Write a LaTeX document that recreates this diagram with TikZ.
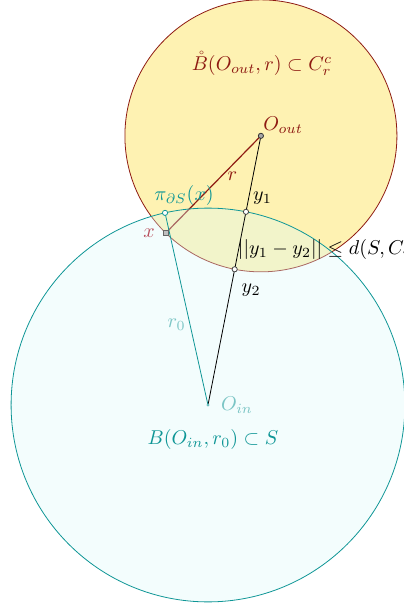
\documentclass[tikz,border=0pt]{standalone}
\usepackage{xcolor}
\usepackage{tikz}
\usetikzlibrary{positioning,calc}
\definecolor{outred}{HTML}{8E1A12}
\definecolor{outfill}{HTML}{FEF2B2}
\definecolor{inteal}{HTML}{0E9696}
\definecolor{infill}{HTML}{DDF8F8}
\definecolor{xred}{HTML}{B8505E}

\begin{document}
\begin{tikzpicture}[
  ballout/.style={draw=outred, fill=outfill},
  ballin/.style={draw=inteal, fill=infill, fill opacity=0.35},
  centerpt/.style={circle, inner sep=0pt, minimum size=2.6pt, draw=black!80, fill=gray!70},
  squarept/.style={rectangle, inner sep=0pt, minimum size=2.6pt, draw=black!60, fill=gray!50},
  hollowpt/.style={circle, inner sep=0pt, minimum size=2.6pt, draw=black!75, fill=white},
  tealpt/.style={hollowpt, draw=inteal},
  softteal/.style={text=inteal!55}
]
\useasboundingbox (-3.655,-3.497) rectangle (3.444,7.117);
\clip (-3.655,-3.497) rectangle (3.444,7.117);
\def\rIn{3.46}
\def\rOut{2.39}
\coordinate (oIn) at (0,0);
\coordinate (oOut) at (0.93,4.73);
\coordinate (xPt) at ($(oOut)+(225.6:\rOut)$);
\coordinate (piPt) at ($(oIn)+(102.6:\rIn)$);
\coordinate (yOne) at ($(oIn)!\rIn cm!(oOut)$);
\coordinate (yTwo) at ($(oOut)!\rOut cm!(oIn)$);
\coordinate (ineqAt) at (0.52,2.724);

\draw[ballout] (oOut) circle (\rOut);
\draw[outred, semithick] (oOut) -- node[pos=0.3, below, text=outred] (rLbl) {$r$} (xPt);
\draw[ballin] (oIn) circle (\rIn);
\draw[inteal] (piPt) -- node[pos=0.58, left, inner sep=2pt, softteal] (rZeroLbl) {$r_0$} (oIn);
\draw (oOut) -- (oIn);

\node[centerpt] (oOutDot) at (oOut) {};
\node[squarept] (xDot) at (xPt) {};
\node[tealpt] (piDot) at (piPt) {};
\node[hollowpt] (yOneDot) at (yOne) {};
\node[hollowpt] (yTwoDot) at (yTwo) {};
\node[circle, inner sep=0pt, minimum size=1.6pt, fill=inteal!60] (oInDot) at (oIn) {};

\node[text=outred] (ballOutLbl) at (0.949,5.993) {$\mathring{B}(O_{out},r)\subset C_r^c$};
\node[text=outred, anchor=south west, inner sep=1pt] (oOutLbl) at (oOut) {$O_{out}$};
\node[above right] (yOneLbl) at (yOne) {$y_1$};
\node[below right=4pt and 0pt of yTwo] (yTwoLbl) {$y_2$};
\node[anchor=west, inner sep=0pt] (ineqLbl) at (ineqAt) {$||y_1-y_2||\leq d(S,C_r)$};
\node[left=2pt of xPt, text=xred] (xLbl) {$x$};
\node[above=0pt of piPt, xshift=9.5pt, text=inteal] (piLbl) {$\pi_{\partial S}(x)$};
\node[right=3pt of oIn, softteal] (oInLbl) {$O_{in}$};
\node[text=inteal] (ballInLbl) at (0.088,-0.615) {$B(O_{in},r_0)\subset S$};
\end{tikzpicture}
\end{document}
